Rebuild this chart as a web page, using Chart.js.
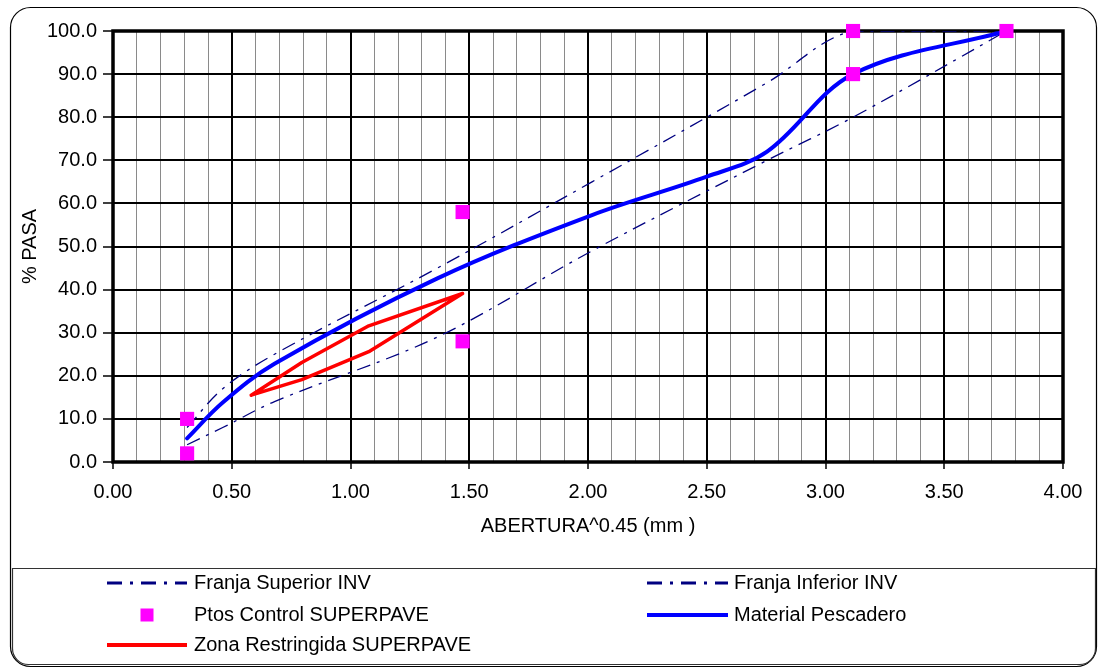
<!DOCTYPE html>
<html>
<head>
<meta charset="utf-8">
<script src="https://cdn.jsdelivr.net/npm/chart.js@4.4.1/dist/chart.umd.min.js"></script>
<style>
  html, body { margin: 0; padding: 0; background: #ffffff; }
  #c { display: block; }
</style>
</head>
<body>
<canvas id="c" width="1099" height="669"></canvas>
<script>
// ---------- DATA ----------
const sieveX = [0.312, 0.462, 0.680, 1.366, 2.017, 2.754, 3.116, 3.762];
const franjaSuperior = [8, 17, 25, 45, 65, 88, 100, 100];
const franjaInferior = [4, 8, 14, 29, 49, 70, 80, 100];

const controlX = [0.312, 0.312, 1.472, 1.472, 3.116, 3.116, 3.762];
const controlY = [2, 10, 28, 58, 90, 100, 100];

const materialX = [0.312, 0.462, 0.680, 1.366, 2.017, 2.500, 2.754, 3.116, 3.762];
const materialY = [5.5, 13.8, 22.8, 42.6, 57.3, 66.2, 72.0, 90.0, 100.0];

const zonaX = [0.582, 0.795, 1.077, 1.472, 1.077, 0.795, 0.582];
const zonaY = [15.5, 23.1, 31.6, 39.1, 25.6, 19.1, 15.5];

const xTickLabels = ['0.00', '0.50', '1.00', '1.50', '2.00', '2.50', '3.00', '3.50', '4.00'];
const yTickLabels = ['0.0', '10.0', '20.0', '30.0', '40.0', '50.0', '60.0', '70.0', '80.0', '90.0', '100.0'];

const seriesNames = ['Franja Superior INV', 'Franja Inferior INV', 'Ptos Control SUPERPAVE', 'Material Pescadero', 'Zona Restringida SUPERPAVE'];
const xTitle = 'ABERTURA^0.45 (mm )';
const yTitle = '% PASA';

// ---------- helpers ----------
const pts = (xs, ys) => xs.map((x, i) => ({ x: x, y: ys[i] }));
const FONT = 'Liberation Sans, Arial, sans-serif';
const FS = 20;
const NAVY = '#000080';
const DASH = [14, 7, 3, 7];
const isMajorX = v => Math.abs(v * 2 - Math.round(v * 2)) < 1e-6;

// ---------- plugins ----------
const framePlugin = {
  id: 'frame',
  beforeDatasetsDraw(chart) {
    const { ctx, chartArea: a } = chart;
    ctx.save();
    ctx.strokeStyle = '#000';
    ctx.lineWidth = 3.5;
    ctx.strokeRect(a.left, a.top, a.right - a.left, a.bottom - a.top);
    ctx.restore();
  }
};

function roundRectPath(ctx, x, y, w, h, r) {
  ctx.beginPath();
  ctx.moveTo(x + r.tl, y);
  ctx.lineTo(x + w - r.tr, y);
  ctx.arcTo(x + w, y, x + w, y + r.tr, r.tr);
  ctx.lineTo(x + w, y + h - r.br);
  ctx.arcTo(x + w, y + h, x + w - r.br, y + h, r.br);
  ctx.lineTo(x + r.bl, y + h);
  ctx.arcTo(x, y + h, x, y + h - r.bl, r.bl);
  ctx.lineTo(x, y + r.tl);
  ctx.arcTo(x, y, x + r.tl, y, r.tl);
  ctx.closePath();
}

const boxPlugin = {
  id: 'outerBox',
  afterDraw(chart) {
    const ctx = chart.ctx;
    const ds = chart.data.datasets;
    ctx.save();
    // outer chart border
    ctx.strokeStyle = '#000';
    ctx.lineWidth = 1.2;
    roundRectPath(ctx, 10.5, 7.5, 1086, 659, { tl: 20, tr: 20, br: 20, bl: 20 });
    ctx.stroke();
    // legend box
    ctx.strokeStyle = '#333';
    ctx.lineWidth = 1.2;
    roundRectPath(ctx, 12.5, 568.5, 1083, 96, { tl: 0, tr: 0, br: 16, bl: 16 });
    ctx.stroke();

    // legend entries
    const col = [{ l0: 107, l1: 187, tx: 194 }, { l0: 647, l1: 728, tx: 734 }];
    const rows = [583, 615, 645];
    const layout = [
      { d: 0, c: 0, r: 0 }, { d: 1, c: 1, r: 0 },
      { d: 2, c: 0, r: 1 }, { d: 3, c: 1, r: 1 },
      { d: 4, c: 0, r: 2 }
    ];
    ctx.font = FS + 'px ' + FONT;
    ctx.textBaseline = 'middle';
    ctx.textAlign = 'left';
    layout.forEach(it => {
      const d = ds[it.d];
      const c = col[it.c];
      const y = rows[it.r];
      if (d.showLine) {
        ctx.beginPath();
        ctx.strokeStyle = d.borderColor;
        ctx.lineWidth = d.legendWidth;
        ctx.setLineDash(d.borderDash && d.borderDash.length ? [15, 8, 3, 8] : []);
        ctx.lineCap = 'butt';
        ctx.moveTo(c.l0, y);
        ctx.lineTo(c.l1, y);
        ctx.stroke();
        ctx.setLineDash([]);
      } else {
        ctx.fillStyle = d.backgroundColor;
        ctx.fillRect(147 - 6.5, y - 6.5, 13, 13);
      }
      ctx.fillStyle = '#000';
      ctx.fillText(d.label, c.tx, y);
    });
    ctx.restore();
  }
};

// ---------- chart ----------
new Chart(document.getElementById('c'), {
  type: 'scatter',
  data: {
    datasets: [
      {
        label: seriesNames[0], data: pts(sieveX, franjaSuperior), showLine: true,
        borderColor: NAVY, backgroundColor: NAVY, borderWidth: 1.3, borderDash: DASH,
        tension: 0.35, pointRadius: 0, order: 4, legendWidth: 3
      },
      {
        label: seriesNames[1], data: pts(sieveX, franjaInferior), showLine: true,
        borderColor: NAVY, backgroundColor: NAVY, borderWidth: 1.3, borderDash: DASH,
        tension: 0.35, pointRadius: 0, order: 3, legendWidth: 3
      },
      {
        label: seriesNames[2], data: pts(controlX, controlY), showLine: false,
        backgroundColor: '#FF00FF', borderColor: '#FF00FF', borderWidth: 0,
        pointStyle: 'rect', pointRadius: 10, pointHoverRadius: 10, order: 0, clip: false
      },
      {
        label: seriesNames[3], data: pts(materialX, materialY), showLine: true,
        borderColor: '#0000FF', backgroundColor: '#0000FF', borderWidth: 4,
        borderJoinStyle: 'round', borderCapStyle: 'round',
        tension: 0.35, pointRadius: 0, order: 1, legendWidth: 4
      },
      {
        label: seriesNames[4], data: pts(zonaX, zonaY), showLine: true,
        borderColor: '#FF0000', backgroundColor: '#FF0000', borderWidth: 3.5,
        borderJoinStyle: 'round', borderCapStyle: 'round',
        tension: 0, pointRadius: 0, order: 2, legendWidth: 4
      }
    ]
  },
  options: {
    responsive: false,
    animation: false,
    devicePixelRatio: 1,
    layout: { padding: { left: 0, top: 31, right: 36, bottom: 127 } },
    plugins: { legend: { display: false }, tooltip: { enabled: false } },
    scales: {
      x: {
        type: 'linear', min: 0, max: 4,
        afterFit: s => { s.height = 80; },
        border: { display: false },
        ticks: {
          stepSize: 0.1, autoSkip: false, minRotation: 0, maxRotation: 0,
          padding: 11, color: '#000', font: { family: FONT, size: FS },
          callback: v => {
            if (!isMajorX(v)) return '';
            const i = Math.round(v * 2);
            return xTickLabels[i];
          }
        },
        grid: {
          color: c => (c.tick && isMajorX(c.tick.value)) ? '#000' : '#8a8a8a',
          lineWidth: c => (c.tick && isMajorX(c.tick.value)) ? 2 : 1,
          tickColor: c => (c.tick && isMajorX(c.tick.value)) ? '#000' : 'rgba(0,0,0,0)',
          tickLength: 7, tickWidth: 1.5
        },
        title: {
          display: true, text: xTitle, color: '#000',
          font: { family: FONT, size: FS }, padding: { top: 0, bottom: 4 }
        }
      },
      y: {
        type: 'linear', min: 0, max: 100,
        afterFit: s => { s.width = 113; },
        border: { display: false },
        ticks: {
          stepSize: 10, padding: 6, color: '#000', font: { family: FONT, size: FS },
          callback: v => yTickLabels[Math.round(v / 10)]
        },
        grid: { color: '#000', lineWidth: 2, tickColor: '#000', tickLength: 10, tickWidth: 1.5 },
        title: {
          display: true, text: yTitle, color: '#000',
          font: { family: FONT, size: FS }, padding: { top: 18, bottom: 0 }
        }
      }
    }
  },
  plugins: [framePlugin, boxPlugin]
});
</script>
</body>
</html>
